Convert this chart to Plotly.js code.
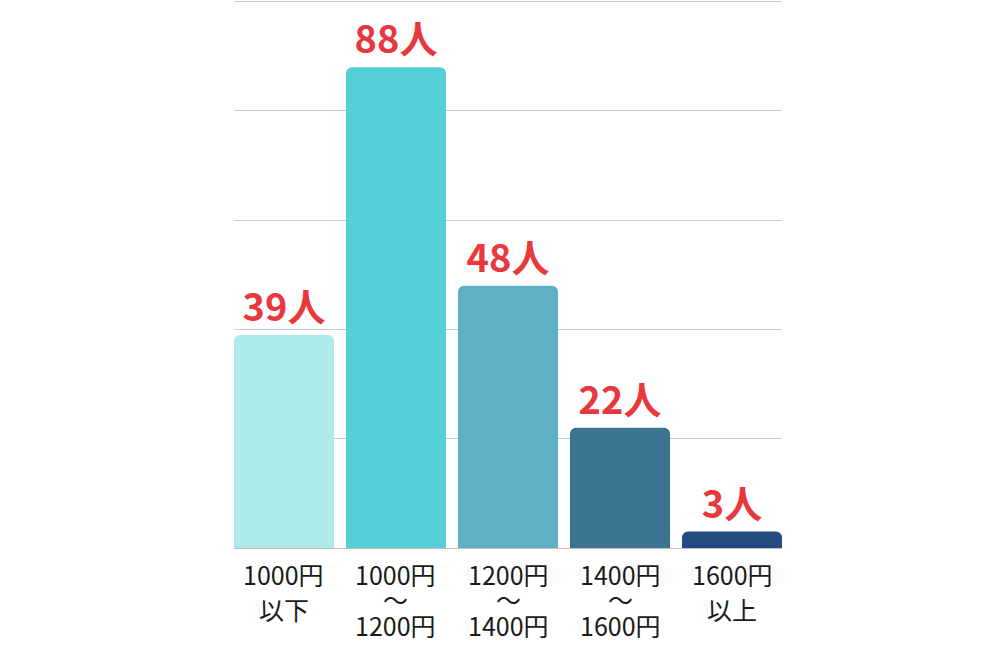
<!DOCTYPE html>
<html>
<head>
<meta charset="utf-8">
<script src="https://cdn.plot.ly/plotly-3.0.1.min.js"></script>
<style>
  html, body { margin: 0; padding: 0; background: #fff; }
  #chart { width: 1000px; height: 650px; }
</style>
</head>
<body>
<div id="chart"></div>
<script>
// 時給の分布
const categories = ['1000円以下', '1000円〜1200円', '1200円〜1400円', '1400円〜1600円', '1600円以上'];
const labelTop = ['1000円', '1000円', '1200円', '1400円', '1600円'];
const labelMid = ['', '〜', '〜', '〜', ''];
const labelBottom = ['以下', '1200円', '1400円', '1600円', '以上'];
const counts = [39, 88, 48, 22, 3];
const barColors = ['#aeeaea', '#55cfd7', '#60b0c5', '#3d748f', '#234b80'];

const trace = {
  type: 'bar',
  x: categories,
  y: counts,
  marker: { color: barColors, line: { width: 0 }, cornerradius: 6 },
  text: counts.map(v => v + '人'),
  textposition: 'outside',
  cliponaxis: false,
  textfont: { family: 'Noto Sans CJK JP', size: 38, color: '#e8383d', weight: 700 },
  hoverinfo: 'skip'
};

// tick labels drawn as annotations so the line spacing can follow the picture
const tickFont = { family: 'Noto Sans CJK JP', size: 25, color: '#1a1a1a' };
const annotations = [];
categories.forEach((c, i) => {
  const threeLines = labelMid[i] !== '';
  annotations.push({ x: c, xref: 'x', y: 0, yref: 'paper', yanchor: 'middle',
    yshift: -26, text: labelTop[i], showarrow: false, font: tickFont });
  if (threeLines) {
    annotations.push({ x: c, xref: 'x', y: 0, yref: 'paper', yanchor: 'middle',
      yshift: -51, text: labelMid[i], showarrow: false, font: tickFont });
  }
  annotations.push({ x: c, xref: 'x', y: 0, yref: 'paper', yanchor: 'middle',
    yshift: threeLines ? -77 : -61, text: labelBottom[i], showarrow: false, font: tickFont });
});

const layout = {
  width: 1000,
  height: 650,
  margin: { l: 234, r: 218, t: 0, b: 102 },
  paper_bgcolor: '#fff',
  plot_bgcolor: '#fff',
  showlegend: false,
  bargap: 0.107,
  font: { family: 'Noto Sans CJK JP', color: '#111' },
  annotations: annotations,
  xaxis: {
    range: [-0.446, 4.446],
    showline: true,
    linecolor: '#bdbdbd',
    linewidth: 1,
    ticks: '',
    showticklabels: false,
    fixedrange: true
  },
  yaxis: {
    range: [0, 100.3],
    tickvals: [0, 20, 40, 60, 80, 100],
    showticklabels: false,
    showgrid: true,
    gridcolor: '#cccccc',
    gridwidth: 1,
    zeroline: false,
    fixedrange: true
  }
};

Plotly.newPlot('chart', [trace], layout, { staticPlot: true });
</script>
</body>
</html>
